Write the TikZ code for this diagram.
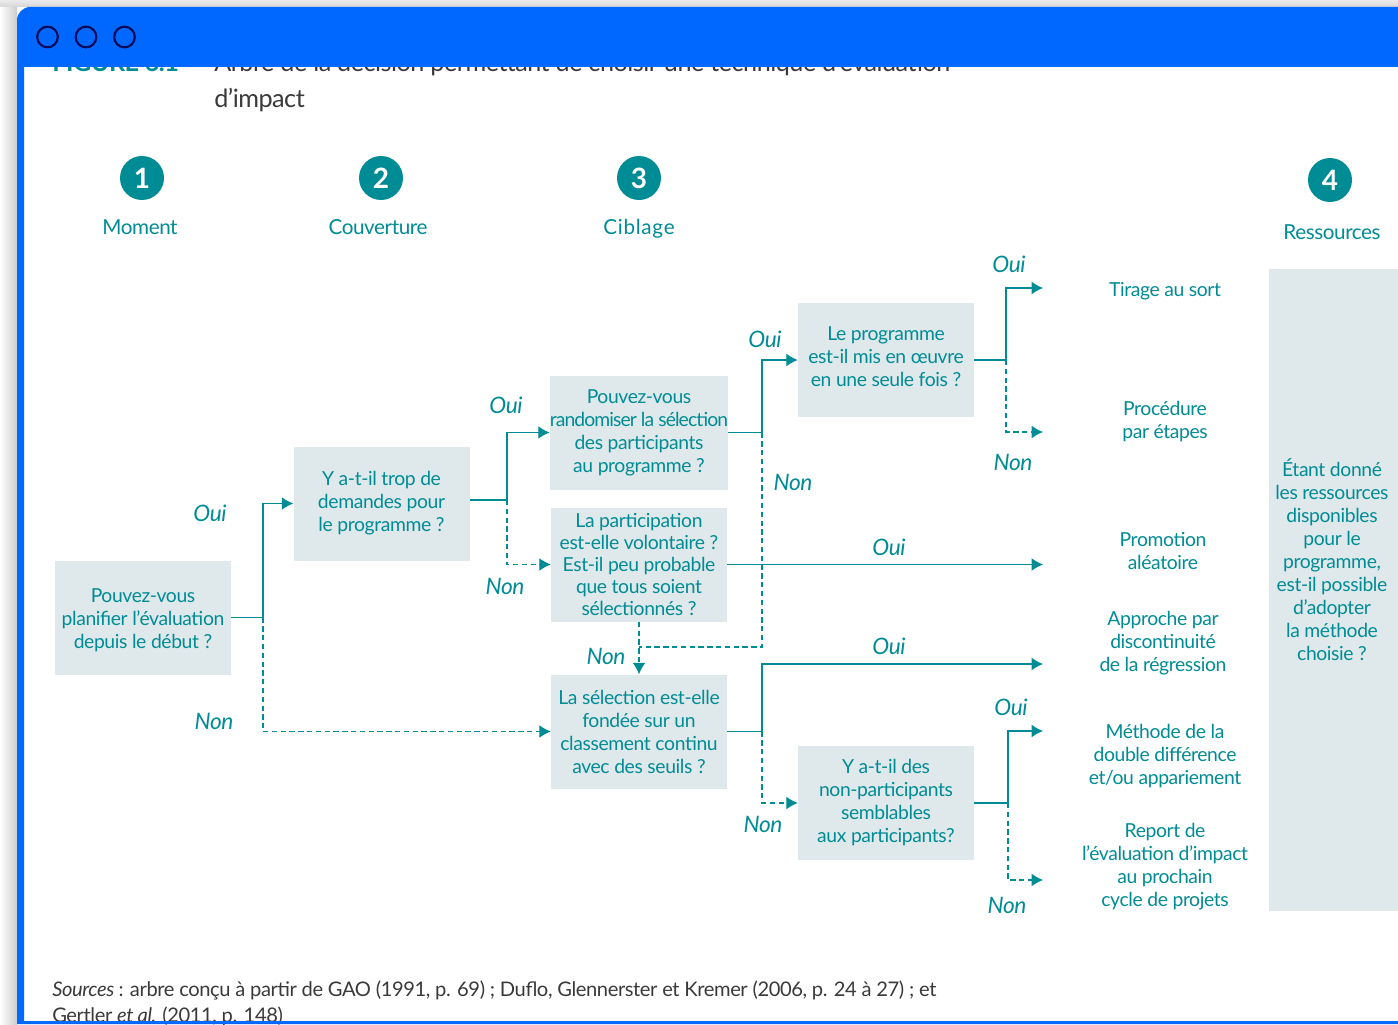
\documentclass[tikz,border=0pt]{standalone}
\usepackage{fontspec}
\setmainfont{Lato}[LetterSpace=-2]
\usetikzlibrary{arrows.meta}
\definecolor{frameblue}{HTML}{0068FF}
\definecolor{dotnavy}{HTML}{0A0A5A}
\definecolor{treeteal}{HTML}{008C95}
\definecolor{boxfill}{HTML}{DFE9EB}
\definecolor{bodygray}{HTML}{3A3A3A}
\tikzset{
    question-box/.style = {fill=boxfill, text=treeteal, rectangle, inner sep=0pt, minimum width=132pt, minimum height=85.5pt, align=center, font=\fontsize{14.5}{17.25}\selectfont},
    result-text/.style = {text=treeteal, align=center, font=\fontsize{14.5}{17.25}\selectfont},
    answer-label/.style = {text=treeteal, font=\fontsize{17}{19}\selectfont\itshape},
    step-badge/.style = {circle, fill=treeteal, text=white, minimum size=33pt, inner sep=0pt, font=\fontsize{21}{23}\selectfont\bfseries},
    step-title/.style = {text=treeteal, anchor=base, font=\fontsize{15.5}{17}\selectfont},
    yes-link/.style = {draw=treeteal, line width=.8pt},
    no-link/.style = {draw=treeteal, line width=.8pt, dash pattern=on 4pt off 2.6pt},
    tip-end/.style = {-{Latex[length=8.5pt,width=9.5pt]}},
    window-dot/.style = {circle, draw=dotnavy, line width=1.6pt, minimum size=15.5pt, inner sep=0pt},
    body-text/.style = {text=bodygray, anchor=base west, inner sep=0pt, font=\fontsize{15.1}{17}\selectfont},
    title-text/.style = {body-text, font=\fontsize{18.9}{21}\selectfont},
}

\begin{document}
\begin{tikzpicture}[x=.75pt, y=-.75pt]
\useasboundingbox (0,0) rectangle (1398,1024);
\fill[white] (0,0) rectangle (1398,1024);
\shade[left color=white, right color=black!20] (0,7) rectangle (17,1024);
\shade[top color=black!8, bottom color=black!16] (0,0) rectangle (1398,7);

\node[title-text, text=treeteal] (fig-number) at (52,71) {\textbf{FIGURE 6.1}};
\node[title-text] (fig-title) at (214,71) {Arbre de la décision permettant de choisir une technique d’évaluation};
\node[title-text] (fig-title-end) at (214,107) {d’impact};

\node[step-badge] (badge-1) at (142,178) {1};
\node[step-badge] (badge-2) at (381,178) {2};
\node[step-badge] (badge-3) at (639,178) {3};
\node[step-badge] (badge-4) at (1330,180) {4};
\node[step-title] (title-1) at (140,234) {Moment};
\node[step-title] (title-2) at (378,234) {Couverture};
\node[step-title] (title-3) at (639,234) {\addfontfeature{LetterSpace=3.5}Ciblage};
\node[step-title] (title-4) at (1332,239) {Ressources};

\node[question-box] (plan-box) at (143,617.5) {\rule{0pt}{14pt}Pouvez-vous\\planifier l’évaluation\\depuis le début ?};
\node[question-box] (demand-box) at (381.5,503.5) {Y a-t-il trop de\\demandes pour\\le programme ?};
\node[question-box] (random-box) at (639,432.5) {Pouvez-vous\\{\addfontfeature{LetterSpace=-4.7}randomiser la sélection}\\des participants\\au programme ?};
\node[question-box, font=\fontsize{14.5}{16.5}\selectfont] (volunteer-box) at (639,564.5) {La participation\\est-elle volontaire ?\\Est-il peu probable\\que tous soient\\sélectionnés ?};
\node[question-box] (ranking-box) at (639,731.5) {La sélection est-elle\\fondée sur un\\classement continu\\avec des seuils ?};
\node[question-box] (once-box) at (886,360) {Le programme\\est-il mis en œuvre\\en une seule fois ?\rule[-5pt]{0pt}{5pt}};
\node[question-box] (similar-box) at (886,803) {Y a-t-il des\\non-participants\\semblables\\aux participants?};

\node[result-text] (lottery-text) at (1165,291) {Tirage au sort};
\node[result-text] (phased-text) at (1165,422) {Procédure\\par étapes};
\node[result-text] (promotion-text) at (1163,551) {Promotion\\aléatoire};
\node[result-text] (rdd-text) at (1163,643) {Approche par\\discontinuité\\de la régression};
\node[result-text] (did-text) at (1165,756) {Méthode de la\\double différence\\et/ou appariement};
\node[result-text] (delay-text) at (1165,867) {Report de\\l’évaluation d’impact\\au prochain\\cycle de projets};

\node[question-box, minimum width=96.75pt, minimum height=481.5pt] (resource-box) at (1333.5,590) {};
\node[result-text] (resource-text) at (1332,560) {Étant donné\\les ressources\\disponibles\\pour le\\programme,\\est-il possible\\d’adopter\\la méthode\\choisie ?};

\coordinate (plan-fork) at (263,617.5);
\coordinate (plan-low) at (263,731.5);
\coordinate (demand-fork) at (507,500);
\coordinate (random-fork) at (762,432.5);
\coordinate (random-low) at (762,647);
\coordinate (volunteer-low) at (639,647);
\coordinate (ranking-fork) at (762,731.5);
\coordinate (once-fork) at (1006,360);
\coordinate (similar-fork) at (1008,803);
\coordinate (lottery-end) at (1043,288);
\coordinate (phased-end) at (1043,432);
\coordinate (promotion-end) at (1043,564.5);
\coordinate (rdd-end) at (1043,664);
\coordinate (did-end) at (1043,731);
\coordinate (delay-end) at (1043,880);

\draw[yes-link] (plan-box.east) -- (plan-fork);
\draw[yes-link, tip-end] (plan-fork) |- (demand-box.west);
\draw[no-link] (plan-fork) -- (plan-low);
\draw[no-link, tip-end] (plan-low) -- (ranking-box.west);
\draw[yes-link] (demand-box.east |- demand-fork) -- (demand-fork);
\draw[yes-link, tip-end] (demand-fork) |- (random-box.west);
\draw[no-link, tip-end] (demand-fork) |- (volunteer-box.west);
\draw[yes-link] (random-box.east) -- (random-fork);
\draw[yes-link, tip-end] (random-fork) |- (once-box.west);
\draw[no-link] (random-fork) -- (random-low) -- (volunteer-low);
\draw[no-link, tip-end] (volunteer-box.south) -- (ranking-box.north);
\draw[yes-link, tip-end] (volunteer-box.east) -- (promotion-end);
\draw[yes-link] (ranking-box.east) -- (ranking-fork);
\draw[yes-link, tip-end] (ranking-fork) |- (rdd-end);
\draw[no-link, tip-end] (ranking-fork) |- (similar-box.west);
\draw[yes-link] (once-box.east) -- (once-fork);
\draw[yes-link, tip-end] (once-fork) |- (lottery-end);
\draw[no-link, tip-end] (once-fork) |- (phased-end);
\draw[yes-link] (similar-box.east) -- (similar-fork);
\draw[yes-link, tip-end] (similar-fork) |- (did-end);
\draw[no-link, tip-end] (similar-fork) |- (delay-end);

\node[answer-label] (plan-oui) at (210,513) {Oui};
\node[answer-label] (plan-non) at (214,721) {Non};
\node[answer-label] (demand-oui) at (506,405) {Oui};
\node[answer-label] (demand-non) at (505,586) {Non};
\node[answer-label] (random-oui) at (765,339) {Oui};
\node[answer-label] (random-non) at (793,482) {Non};
\node[answer-label] (once-oui) at (1009,264) {Oui};
\node[answer-label] (once-non) at (1013,462) {Non};
\node[answer-label] (volunteer-oui) at (889,547) {Oui};
\node[answer-label] (volunteer-non) at (606,656) {Non};
\node[answer-label] (ranking-oui) at (889,646) {Oui};
\node[answer-label] (ranking-non) at (763,824) {Non};
\node[answer-label] (similar-oui) at (1011,707) {Oui};
\node[answer-label] (similar-non) at (1007,905) {Non};

\node[body-text] (source-line) at (52,996) {\textit{Sources} : arbre conçu à partir de GAO (1991, p. 69) ; Duflo, Glennerster et Kremer (2006, p. 24 à 27) ; et};
\node[body-text] (source-end) at (52,1022) {Gertler \textit{et al.} (2011, p. 148)};

\fill[frameblue] (17,1024) [rounded corners=10pt] -- (17,7) -- (40,7) [sharp corners] -- (1398,7) -- (1398,67) -- (24,67) -- (24,1021) -- (1398,1021) -- (1398,1024) -- cycle;
\node[window-dot] (dot-close) at (47.5,37) {};
\node[window-dot] (dot-min) at (86,37) {};
\node[window-dot] (dot-max) at (124.5,37) {};
\end{tikzpicture}
\end{document}
